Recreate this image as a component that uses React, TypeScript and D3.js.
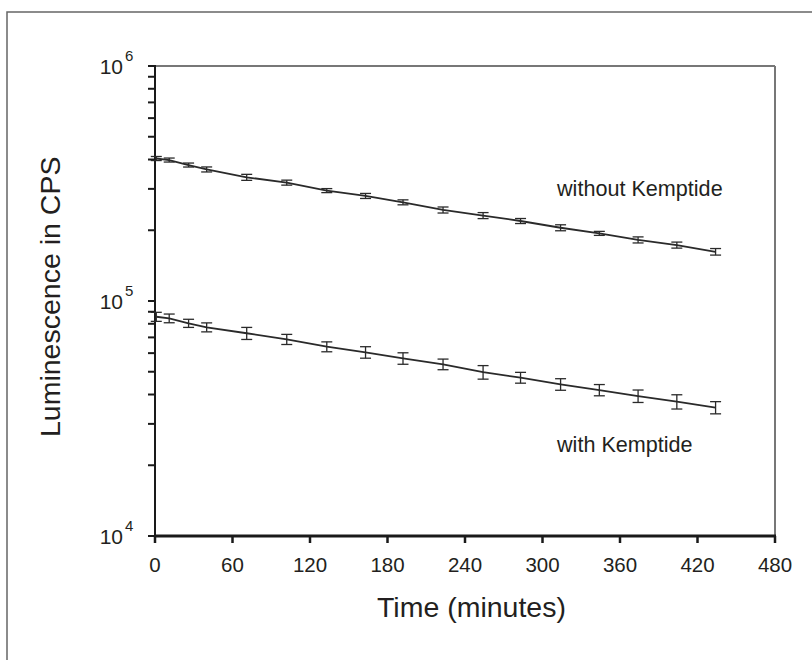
import React from "react";
import * as d3 from "d3";

const times = [1, 11, 26, 40, 71, 102, 133, 163, 192, 223, 254, 283, 314, 344, 374, 404, 434];
const withoutKemptide = [404000, 398000, 379000, 363000, 336000, 319000, 295000, 280000, 263000, 244000, 231000, 219000, 205000, 194000, 182000, 173000, 162000];
const withoutErr = [8000, 7800, 7400, 8900, 9900, 7800, 5800, 6900, 6400, 7200, 6800, 5400, 6000, 3800, 5400, 5100, 5200];
const withKemptide = [85700, 84400, 80400, 77300, 72900, 68700, 63900, 60500, 57000, 53800, 49800, 47200, 44200, 41800, 39400, 37300, 35200];
const withErr = [3800, 3600, 3200, 3400, 4300, 3400, 3100, 3400, 3200, 2800, 3300, 2500, 2500, 2300, 2400, 2600, 2100];
const xTicks = [0, 60, 120, 180, 240, 300, 360, 420, 480];
const yMajor = [1e4, 1e5, 1e6];
const yExponents = ["4", "5", "6"];
const seriesLabels = ["without Kemptide", "with Kemptide"];

const L = 155, R = 775, T = 66, B = 536;
const FONT = "'Liberation Sans', Arial, Helvetica, sans-serif";
const TXT = "#231f20";

export default function App() {
  const x = d3.scaleLinear().domain([0, 480]).range([L, R]);
  const y = d3.scaleLog().domain([1e4, 1e6]).range([B, T]);
  const line = d3.line<number>().x((_, i) => x(times[i])).y((v) => y(v));

  const minor: number[] = [];
  for (let d = 1e4; d < 1e6; d *= 10) for (let k = 2; k <= 9; k++) minor.push(d * k);

  const series = [
    { vals: withoutKemptide, err: withoutErr },
    { vals: withKemptide, err: withErr },
  ];

  return (
    <svg width={812} height={660} style={{ position: "absolute", left: 0, top: 0, background: "#fff" }}>
      <rect x={7} y={12} width={820} height={700} fill="none" stroke="#666" strokeWidth={1.5} />
      <line x1={L} x2={R} y1={T} y2={T} stroke="#777" strokeWidth={2} />
      <line x1={R} x2={R} y1={T} y2={B} stroke="#777" strokeWidth={2} />
      <line x1={L} x2={L} y1={T - 1} y2={B} stroke="#1a1a1a" strokeWidth={2} />
      <line x1={L - 1} x2={R + 1} y1={B} y2={B} stroke="#1a1a1a" strokeWidth={3} />
      {yMajor.concat(minor).map((v, i) => (
        <line key={"yt" + i} x1={L - 7} x2={L} y1={y(v)} y2={y(v)} stroke="#1a1a1a" strokeWidth={2} />
      ))}
      {yMajor.map((v, i) => (
        <g key={"yl" + i} fill={TXT} fontFamily={FONT}>
          <text x={123} y={y(v) + 8} fontSize={21} textAnchor="end">10</text>
          <text x={125} y={y(v) - 5} fontSize={15}>{yExponents[i]}</text>
        </g>
      ))}
      {xTicks.map((t) => (
        <g key={"xt" + t}>
          <line x1={x(t)} x2={x(t)} y1={B} y2={B + 7} stroke="#1a1a1a" strokeWidth={2.5} />
          <text x={x(t)} y={572} fontSize={20.5} textAnchor="middle" fill={TXT} fontFamily={FONT}>{t}</text>
        </g>
      ))}
      <text x={377} y={617} fontSize={28.5} fill={TXT} fontFamily={FONT}>Time (minutes)</text>
      <text transform="translate(60,437) rotate(-90)" fontSize={28.5} fill={TXT} fontFamily={FONT}>Luminescence in CPS</text>
      {series.map((s, si) => (
        <g key={"s" + si}>
          <path d={line(s.vals) || ""} fill="none" stroke="#2a2a2a" strokeWidth={1.8} />
          {s.vals.map((v, i) => {
            const cx = x(times[i]);
            const y1 = y(v + s.err[i]);
            const y2 = y(v - s.err[i]);
            return (
              <g key={i} stroke="#2a2a2a" strokeWidth={1.3}>
                <line x1={cx} x2={cx} y1={y1} y2={y2} />
                <line x1={cx - 5.5} x2={cx + 5.5} y1={y1} y2={y1} />
                <line x1={cx - 5.5} x2={cx + 5.5} y1={y2} y2={y2} />
              </g>
            );
          })}
        </g>
      ))}
      <text x={557} y={196} fontSize={21.6} fill={TXT} fontFamily={FONT}>{seriesLabels[0]}</text>
      <text x={557} y={451.5} fontSize={21.6} fill={TXT} fontFamily={FONT}>{seriesLabels[1]}</text>
    </svg>
  );
}
